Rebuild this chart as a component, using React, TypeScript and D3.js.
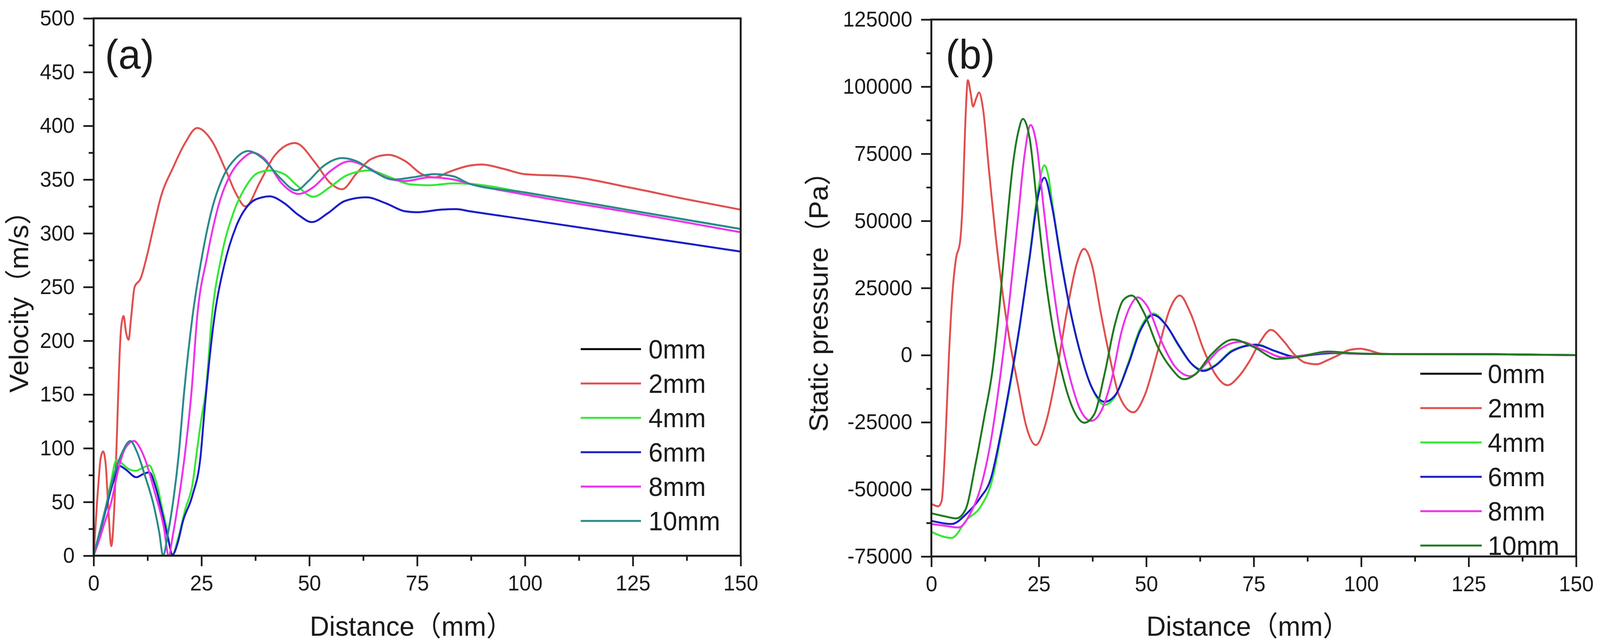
import React, { useEffect, useRef } from "react";
import * as d3 from "d3";

type Pt = [number, number];

const W = 4221;
const H = 1644;
const FONT = "'Liberation Sans', Arial, 'Noto Sans CJK SC', sans-serif";

// legend / series names
const seriesNames = ["0mm", "2mm", "4mm", "6mm", "8mm", "10mm"];

// tick labels
const distanceTicks = [0, 25, 50, 75, 100, 125, 150];
const velocityTicks = [0, 50, 100, 150, 200, 250, 300, 350, 400, 450, 500];
const pressureTicks = [-75000, -50000, -25000, 0, 25000, 50000, 75000, 100000, 125000];

// (a) velocity, m/s vs distance, mm
// the 0mm curve is not visible in the figure (hidden under the others)
const vel0mm: Pt[] = [];
const vel2mm: Pt[] = [
  [0, 0], [0.4, 25], [0.8, 50], [1.2, 72], [1.6, 90], [2.2, 97], [2.8, 85], [3.4, 44], [4.1, 9],
  [4.6, 30], [5.0, 65], [5.5, 125], [6.0, 185], [6.4, 213], [6.95, 223], [7.5, 208], [8.1, 201],
  [8.7, 222], [9.5, 250], [10.9, 258], [12.3, 278], [13.9, 306], [15.6, 334], [18.4, 361],
  [21.2, 384], [24.0, 398], [27.4, 386], [30.7, 358], [33.0, 337], [35.2, 325], [38.6, 348],
  [41.9, 372], [46.7, 384], [51.5, 365], [54.8, 347], [57.6, 341], [61.0, 356], [64.3, 369],
  [68.3, 373], [72.3, 367], [76.1, 355], [79.1, 352], [82.3, 357], [87.2, 363], [90, 364],
  [95, 360], [100, 355], [110, 353], [125, 342], [137, 332], [150, 322],
];
const vel4mm: Pt[] = [
  [0, 0], [2.5, 38], [4.0, 68], [5.3, 89], [6.5, 86], [8.0, 81], [9.7, 79], [11.5, 82], [12.9, 84],
  [14.0, 75], [15.0, 61], [16.0, 42], [16.9, 26], [17.6, 10], [18.2, 0], [19.5, 15], [21.3, 44],
  [22.9, 66], [23.8, 93], [25.0, 128], [26.0, 153], [27.4, 222], [29.6, 278], [32.4, 319],
  [35.2, 343], [38.0, 356], [40.8, 358.5], [44.2, 355], [47.0, 345], [50.9, 334], [54.8, 343],
  [58.7, 354], [63.8, 358.5], [68.8, 352], [73.3, 345.6], [77.8, 344.7], [83.4, 346.5],
  [87.2, 346], [100, 338], [125, 321], [150, 304],
];
const vel6mm: Pt[] = [
  [0, 0], [2.5, 38], [4.5, 68], [6.0, 83.6], [7.5, 80], [9.9, 73], [11.5, 76], [12.9, 77.6],
  [14.5, 62], [16.0, 38], [17.2, 17], [18.3, 1], [19.5, 12], [20.7, 32], [22.9, 56], [24.8, 93],
  [25.7, 135], [28.0, 222], [30.2, 269], [33.0, 306], [36.3, 328], [39.1, 333.5], [40.8, 334.4],
  [44.2, 328], [47.5, 317], [50.6, 310.4], [54.3, 318.7], [58.2, 330], [63.2, 333.5], [67.7, 328],
  [72.2, 320.5], [75.0, 319.6], [80.6, 322], [84, 322.5], [87.2, 320.5], [100, 313], [125, 298],
  [150, 283],
];
const vel8mm: Pt[] = [
  [0, 0], [1.25, 14], [2.5, 30], [4.1, 50], [5.6, 78], [7.2, 99], [9.4, 106.7], [10.5, 102],
  [11.9, 90], [14.1, 60], [16.3, 26], [17.4, 0], [18.4, 20], [19.4, 44], [21.3, 99], [22.7, 153],
  [24.0, 222], [26.3, 278], [29.1, 328], [31.9, 356], [34.7, 370], [36.9, 375], [39.7, 369],
  [43.6, 346.5], [47.5, 336.6], [50.9, 342.8], [54.8, 357.6], [59.3, 367], [63.2, 362],
  [67.7, 352], [72.2, 348.6], [77.8, 352], [83.4, 350], [87.2, 346], [100, 336], [125, 319],
  [150, 301],
];
const vel10mm: Pt[] = [
  [0, 0], [2.5, 40], [4.5, 72], [6.5, 95], [8.5, 106.7], [10.0, 97], [11.9, 74.5], [14.1, 44],
  [15.2, 22], [16.1, 0], [17.2, 20], [18.2, 44], [19.7, 93], [21.0, 153], [22.9, 222], [25.1, 278],
  [27.4, 322], [30.2, 354], [33.0, 370], [35.8, 376.5], [39.1, 370], [43.1, 352], [47.0, 340],
  [49.8, 348.6], [53.1, 362], [57.6, 370], [61.0, 367], [64.9, 357.6], [69.4, 350], [73.9, 352],
  [78.9, 355], [83.4, 353], [87.2, 346], [100, 338], [125, 321], [150, 304],
];

// (b) static pressure, Pa vs distance, mm
const pre0mm: Pt[] = [];
const pre2mm: Pt[] = [
  [0, -55400], [1.6, -56300], [2.4, -54300], [3.2, -34700], [4.1, 0], [4.9, 22900], [5.7, 35600],
  [6.7, 42500], [7.3, 57500], [7.9, 86300], [8.5, 102400], [9.1, 98000], [9.7, 92600],
  [10.4, 95500], [11.1, 97800], [12.0, 92000], [13.4, 69000], [15.0, 43700], [16.6, 22900],
  [18.2, 5600], [20.2, -11600], [22.1, -26600], [24.3, -33500], [26.8, -24300], [29.2, -5900],
  [31.5, 16000], [33.9, 34400], [35.5, 39600], [37.4, 33300], [39.4, 16000], [41.4, 0],
  [43.7, -15100], [47.0, -21300], [49.6, -15100], [52.8, 2200], [55.5, 17200], [57.8, 22200],
  [60.2, 16000], [63.3, 2200], [66, -7000], [68.9, -11200], [71.5, -8000], [74.0, -2300],
  [76.5, 5000], [79.0, 9400], [81.8, 5500], [84.6, 0], [87, -2800], [89.7, -3400], [92, -2000],
  [94.7, 0], [97, 1800], [99.8, 2400], [102, 1700], [104.9, 500], [110, 350], [130, 300],
  [150, 0],
];
const pre4mm: Pt[] = [
  [0, -65800], [4.7, -68100], [8.3, -61200], [11.4, -56600], [14.2, -46200], [16.2, -30000],
  [18.2, -12500], [20.6, 11000], [22.9, 37500], [24.9, 62000], [26.3, 70700], [27.3, 66000],
  [28.1, 57000], [30.0, 37500], [32.4, 16000], [34.8, 0], [37.2, -11600], [40.3, -18500],
  [42.7, -15500], [45.8, -3000], [48.6, 10000], [51.6, 15500], [54.5, 11500], [57.7, 3000],
  [60.4, -3000], [63.3, -5500], [66, -3800], [70, 1800], [75.5, 4000], [80, 1500], [84.6, -500],
  [89, 300], [93.7, 800], [100, 500], [110, 400], [130, 350], [150, 0],
];
const pre6mm: Pt[] = [
  [0, -61700], [4.7, -62900], [8.3, -58900], [11.4, -53100], [13.8, -46200], [16.2, -28900],
  [18.2, -11600], [20.6, 11400], [22.9, 36700], [24.9, 59800], [26.3, 66100], [28.1, 55200],
  [30.0, 36700], [32.4, 16000], [34.8, 0], [37.2, -11600], [40.3, -17400], [42.7, -15100],
  [45.8, -3600], [48.6, 9100], [51.6, 15000], [54.5, 11400], [57.7, 3300], [60.4, -3000],
  [63.3, -5900], [66, -4000], [70, 1500], [75.5, 3840], [80, 1500], [84.6, -600], [89, 200],
  [93.7, 790], [100, 500], [110, 400], [130, 350], [150, 0],
];
const pre8mm: Pt[] = [
  [0, -62900], [3, -63500], [6.3, -64200], [9.1, -58900], [11.4, -49700], [13.8, -32400],
  [16.2, -5900], [18.2, 20600], [20.2, 51700], [21.7, 74800], [23.1, 85700], [24.5, 78200],
  [26.1, 55200], [28.1, 28700], [30.0, 7900], [32.4, -9300], [34.8, -20850], [37.2, -24500],
  [39.5, -20850], [41.9, -9300], [44.3, 9100], [46.3, 18300], [48.0, 21500], [50.2, 18300],
  [53.7, 4500], [56.9, -4700], [60.3, -7840], [64, -3000], [67, 2000], [72.0, 4960], [77, 2000],
  [82.0, -890], [87, 0], [92.7, 1080], [98, 600], [105, 400], [130, 350], [150, 0],
];
const pre10mm: Pt[] = [
  [0, -58900], [3, -60000], [5.8, -60800], [7.9, -57700], [10.3, -40400], [12.3, -23200],
  [14.2, -5900], [15.8, 17200], [17.4, 46000], [19.0, 71300], [20.2, 83000], [21.3, 88000],
  [22.2, 85500], [22.9, 80500], [24.5, 57500], [26.1, 34400], [28.5, 7900], [30.8, -9300],
  [33.2, -20850], [35.6, -25200], [37.9, -22000], [40.3, -7000], [42.7, 11400], [44.7, 20600],
  [46.6, 22200], [49.4, 16000], [52.6, 3300], [55.7, -4700], [58.8, -8960], [61.5, -7000],
  [65, 0], [70.2, 5790], [75, 3000], [80.5, -1440], [86, -500], [92.2, 1340], [98, 700],
  [105, 400], [130, 350], [150, 0],
];

const velocitySeries = [vel0mm, vel2mm, vel4mm, vel6mm, vel8mm, vel10mm];
const pressureSeries = [pre0mm, pre2mm, pre4mm, pre6mm, pre8mm, pre10mm];

const velColors = ["#000000", "#e0504f", "#35e835", "#1c1cc8", "#ec33ec", "#2a8a8a"];
const preColors = ["#000000", "#e0504f", "#35e835", "#1c1cc8", "#ec33ec", "#1f7a1f"];

interface PanelCfg {
  key: string;
  left: number;
  right: number;
  top: number;
  bottom: number;
  yDomain: [number, number];
  yTicks: number[];
  yMinorStep: number;
  series: Pt[][];
  colors: string[];
  yTitle: string;
  yTitleX: number;
  label: string;
  labelX: number;
  legendX1: number;
  legendX2: number;
  legendTextX: number;
  legendY0: number;
}

const panels: PanelCfg[] = [
  {
    key: "a", left: 247, right: 1954, top: 47, bottom: 1423,
    yDomain: [0, 500], yTicks: velocityTicks, yMinorStep: 25,
    series: velocitySeries, colors: velColors,
    yTitle: "Velocity（m/s）", yTitleX: 74,
    label: "(a)", labelX: 277,
    legendX1: 1532, legendX2: 1691, legendTextX: 1711, legendY0: 894,
  },
  {
    key: "b", left: 2457, right: 4158, top: 50, bottom: 1425,
    yDomain: [-75000, 125000], yTicks: pressureTicks, yMinorStep: 12500,
    series: pressureSeries, colors: preColors,
    yTitle: "Static pressure（Pa）", yTitleX: 2184,
    label: "(b)", labelX: 2495,
    legendX1: 3747, legendX2: 3909, legendTextX: 3925, legendY0: 957,
  },
];

function drawPanel(svg: d3.Selection<SVGSVGElement, unknown, null, undefined>, p: PanelCfg) {
  const x = d3.scaleLinear().domain([0, 150]).range([p.left, p.right]);
  const y = d3.scaleLinear().domain(p.yDomain).range([p.bottom, p.top]);
  const g = svg.append("g");

  g.append("clipPath")
    .attr("id", `clip-${p.key}`)
    .append("rect")
    .attr("x", p.left)
    .attr("y", p.top)
    .attr("width", p.right - p.left)
    .attr("height", p.bottom - p.top);

  const line = d3
    .line<Pt>()
    .x((d) => x(d[0]))
    .y((d) => y(d[1]))
    .curve(d3.curveMonotoneX);

  const lines = g.append("g").attr("clip-path", `url(#clip-${p.key})`);
  p.series.forEach((s, i) => {
    if (!s.length) return;
    lines
      .append("path")
      .attr("d", line(s))
      .attr("fill", "none")
      .attr("stroke", p.colors[i])
      .attr("stroke-width", 5)
      .attr("stroke-linejoin", "round");
  });

  // minor ticks
  const xMinor = d3.range(12.5, 150, 25);
  const yMinor = d3.range(p.yDomain[0] + p.yMinorStep, p.yDomain[1], p.yMinorStep * 2);

  const gxm = g
    .append("g")
    .attr("transform", `translate(0,${p.bottom})`)
    .call(d3.axisBottom(x).tickValues(xMinor).tickSize(13).tickSizeOuter(0).tickFormat(() => ""));
  gxm.select(".domain").remove();
  const gym = g
    .append("g")
    .attr("transform", `translate(${p.left},0)`)
    .call(d3.axisLeft(y).tickValues(yMinor).tickSize(13).tickSizeOuter(0).tickFormat(() => ""));
  gym.select(".domain").remove();

  // major ticks + labels
  const gx = g
    .append("g")
    .attr("transform", `translate(0,${p.bottom})`)
    .call(
      d3
        .axisBottom(x)
        .tickValues(distanceTicks)
        .tickSize(27)
        .tickSizeOuter(0)
        .tickPadding(23)
        .tickFormat((d) => String(d))
    );
  gx.select(".domain").remove();

  const gy = g
    .append("g")
    .attr("transform", `translate(${p.left},0)`)
    .call(
      d3
        .axisLeft(y)
        .tickValues(p.yTicks)
        .tickSize(27)
        .tickSizeOuter(0)
        .tickPadding(23)
        .tickFormat((d) => String(d))
    );
  gy.select(".domain").remove();

  [gx, gy, gxm, gym].forEach((a) => {
    a.attr("font-size", 55).attr("font-family", FONT);
    a.selectAll("line").attr("stroke", "#1a1a1a").attr("stroke-width", 4.5);
    a.selectAll("text").attr("fill", "#1a1a1a");
  });

  // frame
  g.append("rect")
    .attr("x", p.left)
    .attr("y", p.top)
    .attr("width", p.right - p.left)
    .attr("height", p.bottom - p.top)
    .attr("fill", "none")
    .attr("stroke", "#1a1a1a")
    .attr("stroke-width", 5);

  // axis titles
  g.append("text")
    .attr("x", (p.left + p.right) / 2 - 15)
    .attr("y", 1628)
    .attr("text-anchor", "middle")
    .attr("font-family", FONT)
    .attr("font-size", 71)
    .attr("fill", "#1a1a1a")
    .text("Distance（mm）");

  g.append("text")
    .attr("transform", `translate(${p.yTitleX},755) rotate(-90)`)
    .attr("text-anchor", "middle")
    .attr("font-family", FONT)
    .attr("font-size", 71)
    .attr("fill", "#1a1a1a")
    .text(p.yTitle);

  // panel label
  g.append("text")
    .attr("x", p.labelX)
    .attr("y", 176)
    .attr("font-family", FONT)
    .attr("font-size", 106)
    .attr("fill", "#1a1a1a")
    .text(p.label);

  // legend
  seriesNames.forEach((name, i) => {
    const ly = p.legendY0 + i * 88;
    g.append("line")
      .attr("x1", p.legendX1)
      .attr("x2", p.legendX2)
      .attr("y1", ly)
      .attr("y2", ly)
      .attr("stroke", p.colors[i])
      .attr("stroke-width", 5);
    g.append("text")
      .attr("x", p.legendTextX)
      .attr("y", ly + 24)
      .attr("font-family", FONT)
      .attr("font-size", 68)
      .attr("fill", "#1a1a1a")
      .text(name);
  });
}

const App: React.FC = () => {
  const svgRef = useRef<SVGSVGElement | null>(null);

  useEffect(() => {
    if (!svgRef.current) return;
    const svg = d3.select(svgRef.current);
    svg.selectAll("*").remove();
    svg.append("rect").attr("width", W).attr("height", H).attr("fill", "#ffffff");
    panels.forEach((p) => drawPanel(svg, p));
  }, []);

  // the browser viewport is narrower than the figure, so the drawing is fitted to its width
  return (
    <svg
      ref={svgRef}
      viewBox={`0 0 ${W} ${H}`}
      preserveAspectRatio="none"
      style={{ position: "absolute", left: 0, top: 0, display: "block", width: "100vw", height: `${H}px` }}
    />
  );
};

export default App;
